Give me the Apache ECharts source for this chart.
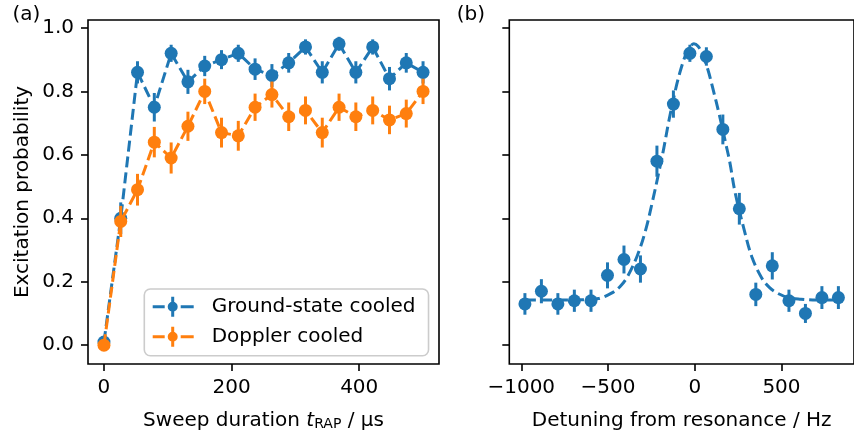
<!DOCTYPE html>
<html>
<head>
<meta charset="utf-8">
<script src="https://cdn.jsdelivr.net/npm/echarts@6/dist/echarts.min.js"></script>
<style>
  html, body { margin: 0; padding: 0; background: #ffffff; }
  #chart { width: 854px; height: 436px; }
</style>
</head>
<body>
<div id="chart"></div>
<script>
// (a) excitation probability versus RAP sweep duration
const sweepDuration = [0, 26.3, 52.6, 78.9, 105.3, 131.6, 157.9, 184.2, 210.5, 236.8,
                       263.2, 289.5, 315.8, 342.1, 368.4, 394.7, 421.1, 447.4, 473.7, 500];
const groundCooled    = [0.01, 0.40, 0.86, 0.75, 0.92, 0.83, 0.88, 0.90, 0.92, 0.87,
                         0.85, 0.89, 0.94, 0.86, 0.95, 0.86, 0.94, 0.84, 0.89, 0.86];
const groundCooledErr = [0.01, 0.05, 0.035, 0.045, 0.027, 0.038, 0.032, 0.03, 0.027, 0.034,
                         0.036, 0.031, 0.024, 0.035, 0.022, 0.035, 0.024, 0.037, 0.031, 0.035];
const dopplerCooled    = [0.00, 0.39, 0.49, 0.64, 0.59, 0.69, 0.80, 0.67, 0.66, 0.75,
                          0.79, 0.72, 0.74, 0.67, 0.75, 0.72, 0.74, 0.71, 0.73, 0.80];
const dopplerCooledErr = [0.005, 0.049, 0.05, 0.048, 0.049, 0.046, 0.04, 0.047, 0.047, 0.043,
                          0.041, 0.045, 0.044, 0.047, 0.043, 0.045, 0.044, 0.045, 0.044, 0.04];

// (b) excitation probability versus detuning, with fitted line shape
const detuning = [-979, -884, -789, -694, -598, -503, -408, -313, -218, -123,
                  -28, 67, 162, 257, 352, 447, 543, 638, 733, 828];
const detuningProb    = [0.13, 0.17, 0.13, 0.14, 0.14, 0.22, 0.27, 0.24, 0.58, 0.76,
                         0.92, 0.91, 0.68, 0.43, 0.16, 0.25, 0.14, 0.10, 0.15, 0.15];
const detuningProbErr = [0.034, 0.038, 0.034, 0.035, 0.035, 0.041, 0.044, 0.043, 0.049, 0.043,
                         0.027, 0.029, 0.047, 0.05, 0.037, 0.043, 0.035, 0.03, 0.036, 0.036];
const fitDetuning = [-979, -800, -650, -555, -480, -430, -386, -329, -282, -245, -211, -178,
                     -150, -113, -88, -56, -30, -5, 19, 45, 76, 104, 141, 179, 202, 232,
                     282, 330, 386, 430, 480, 540, 612, 700, 828];
const fitProb = [0.142, 0.142, 0.143, 0.147, 0.164, 0.185, 0.218, 0.285, 0.365, 0.45, 0.535, 0.622,
                 0.705, 0.80, 0.855, 0.91, 0.938, 0.95, 0.942, 0.917, 0.868, 0.81, 0.728, 0.635, 0.577, 0.483,
                 0.37, 0.277, 0.212, 0.182, 0.163, 0.15, 0.145, 0.142, 0.142];

// tick positions
const probTicks = [0, 0.2, 0.4, 0.6, 0.8, 1.0];
const sweepTicks = [0, 200, 400];
const detuningTicks = [-1000, -500, 0, 500];

const BLUE = '#1f77b4';
const ORANGE = '#ff7f0e';
const FONT = 'DejaVu Sans';
const DASH = [11, 5];

const zip = (xs, ys) => xs.map((x, i) => [x, ys[i]]);

function errorBars(name, xs, ys, es, color, axis, z) {
  return {
    type: 'custom',
    name: name,
    xAxisIndex: axis,
    yAxisIndex: axis,
    z: z,
    silent: true,
    data: xs.map((x, i) => [x, ys[i] - es[i], ys[i] + es[i]]),
    encode: { x: 0, y: [1, 2] },
    renderItem: function (params, api) {
      const lo = api.coord([api.value(0), api.value(1)]);
      const hi = api.coord([api.value(0), api.value(2)]);
      return {
        type: 'line',
        shape: { x1: lo[0], y1: lo[1], x2: hi[0], y2: hi[1] },
        style: { stroke: color, lineWidth: 3 }
      };
    }
  };
}

function tickStyle(values, showLabel, formatter) {
  return {
    axisTick: { show: true, inside: false, length: 7, customValues: values,
                lineStyle: { color: '#000', width: 1.6 } },
    axisLabel: { show: showLabel, customValues: values, margin: 14, formatter: formatter,
                 color: '#000', fontSize: 20, fontFamily: FONT },
    axisLine: { show: false, onZero: false },
    splitLine: { show: false }
  };
}

const minusFmt = v => (v < 0 ? '\u2212' + Math.abs(v) : String(v));
const probFmt = v => v.toFixed(1);

// legend handle: dash, marker with error bar, dash
const handleIcon = 'path://M0 8.5L12 8.5L12 11.5L0 11.5Z M28 8.5L41 8.5L41 11.5L28 11.5Z ' +
  'M18.5 0L21.5 0L21.5 20L18.5 20Z M15 10A5 5 0 1 1 25 10A5 5 0 1 1 15 10Z';

const chart = echarts.init(document.getElementById('chart'), null, { renderer: 'canvas' });

chart.setOption({
  animation: false,
  backgroundColor: '#ffffff',
  textStyle: { fontFamily: FONT },
  grid: [
    { left: 88, top: 20, width: 351, height: 347, show: true,
      borderColor: '#000', borderWidth: 1.6, backgroundColor: 'transparent' },
    { left: 509.3, top: 20, width: 351, height: 347, show: true,
      borderColor: '#000', borderWidth: 1.6, backgroundColor: 'transparent' }
  ],
  xAxis: [
    Object.assign({
      type: 'value', gridIndex: 0, min: -25, max: 525,
      name: 'Sweep duration {it|t}{sub|RAP} / μs',
      nameLocation: 'middle', nameGap: 47,
      nameTextStyle: {
        fontSize: 20, color: '#000', fontFamily: FONT, lineHeight: 20,
        rich: {
          it: { fontSize: 20, fontStyle: 'italic', fontFamily: FONT, color: '#000', lineHeight: 20 },
          sub: { fontSize: 14, fontFamily: FONT, color: '#000', lineHeight: 14,
                 verticalAlign: 'bottom', padding: [0, 0, 0, 0] }
        }
      }
    }, tickStyle(sweepTicks, true, v => String(v))),
    Object.assign({
      type: 'value', gridIndex: 1, min: -1069, max: 918,
      name: 'Detuning from resonance / Hz',
      nameLocation: 'middle', nameGap: 47,
      nameTextStyle: { fontSize: 20, color: '#000', fontFamily: FONT, lineHeight: 20 }
    }, tickStyle(detuningTicks, true, minusFmt))
  ],
  yAxis: [
    Object.assign({
      type: 'value', gridIndex: 0, min: -0.0594, max: 1.025,
      name: 'Excitation probability',
      nameLocation: 'middle', nameGap: 55,
      nameTextStyle: { fontSize: 20, color: '#000', fontFamily: FONT }
    }, tickStyle(probTicks, true, probFmt)),
    Object.assign({
      type: 'value', gridIndex: 1, min: -0.0594, max: 1.025
    }, tickStyle(probTicks, false, probFmt))
  ],
  legend: {
    data: ['Ground-state cooled', 'Doppler cooled'],
    orient: 'vertical',
    left: 144.3,
    top: 289,
    icon: handleIcon,
    itemWidth: 41,
    itemHeight: 20,
    itemGap: 10,
    itemStyle: { borderWidth: 0 },
    padding: [7.7, 13, 9, 8.4],
    backgroundColor: 'rgba(255,255,255,0.8)',
    borderColor: '#cccccc',
    borderWidth: 1.6,
    borderRadius: 6,
    selectedMode: false,
    textStyle: { fontSize: 20, color: '#000', fontFamily: FONT, lineHeight: 20,
                 padding: [0, 0, 0, 13] }
  },
  graphic: [
    { type: 'text', x: 12.5, y: 15.2,
      style: { text: '(a)', font: '20px "DejaVu Sans"', fill: '#000', verticalAlign: 'middle' } },
    { type: 'text', x: 456.7, y: 15.2,
      style: { text: '(b)', font: '20px "DejaVu Sans"', fill: '#000', verticalAlign: 'middle' } }
  ],
  series: [
    errorBars('gs-err', sweepDuration, groundCooled, groundCooledErr, BLUE, 0, 2),
    {
      type: 'line', name: 'Ground-state cooled', xAxisIndex: 0, yAxisIndex: 0, z: 3,
      data: zip(sweepDuration, groundCooled),
      symbol: 'circle', symbolSize: 13, showAllSymbol: true,
      itemStyle: { color: BLUE, borderWidth: 0 },
      lineStyle: { color: BLUE, width: 3, type: DASH }
    },
    errorBars('dc-err', sweepDuration, dopplerCooled, dopplerCooledErr, ORANGE, 0, 4),
    {
      type: 'line', name: 'Doppler cooled', xAxisIndex: 0, yAxisIndex: 0, z: 5,
      data: zip(sweepDuration, dopplerCooled),
      symbol: 'circle', symbolSize: 13, showAllSymbol: true,
      itemStyle: { color: ORANGE, borderWidth: 0 },
      lineStyle: { color: ORANGE, width: 3, type: DASH }
    },
    {
      type: 'line', name: 'fit', xAxisIndex: 1, yAxisIndex: 1, z: 2,
      data: zip(fitDetuning, fitProb),
      showSymbol: false, smooth: 0.35,
      lineStyle: { color: BLUE, width: 3, type: DASH }
    },
    errorBars('det-err', detuning, detuningProb, detuningProbErr, BLUE, 1, 3),
    {
      type: 'scatter', name: 'detuning scan', xAxisIndex: 1, yAxisIndex: 1, z: 4,
      data: zip(detuning, detuningProb),
      symbol: 'circle', symbolSize: 13,
      itemStyle: { color: BLUE, opacity: 1, borderWidth: 0 }
    }
  ]
});
</script>
</body>
</html>
